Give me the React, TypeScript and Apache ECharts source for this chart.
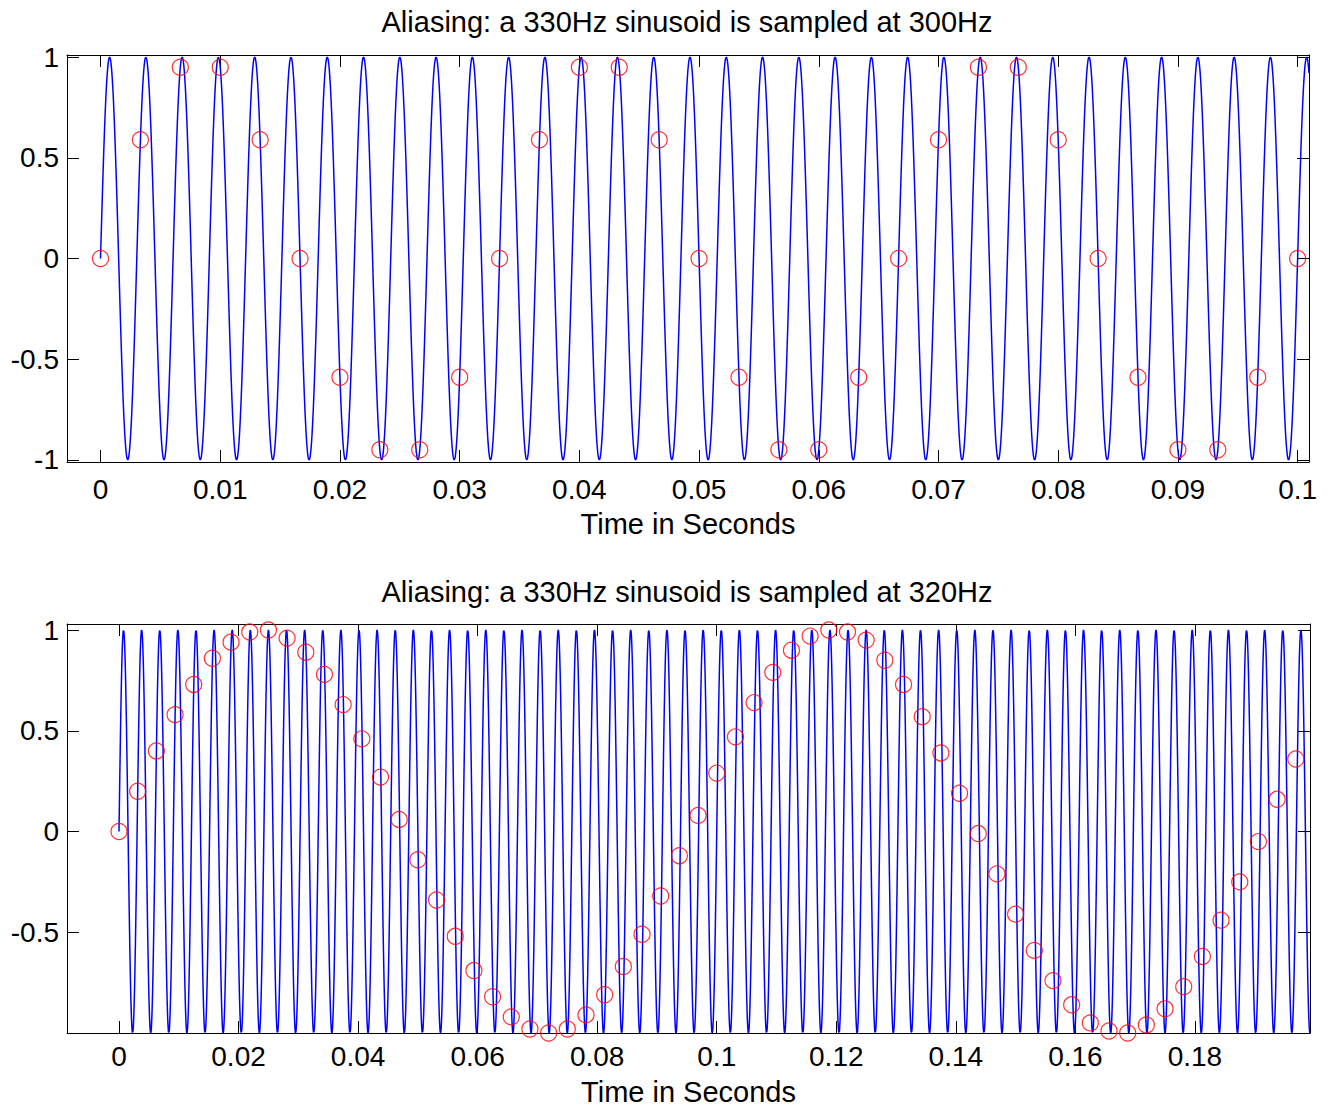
import React, { useEffect, useRef } from "react";
import * as echarts from "echarts";

// ---- Text ----
const TOP_TITLE = "Aliasing: a 330Hz sinusoid is sampled at 300Hz";
const BOTTOM_TITLE = "Aliasing: a 330Hz sinusoid is sampled at 320Hz";
const X_NAME = "Time in Seconds";

// ---- Signal description (from the titles) ----
const TONE_HZ = 330;
const TOP_RATE_HZ = 300;
const BOTTOM_RATE_HZ = 320;

// ---- Sample values (red circles) ----
const TOP_SAMPLES = [
  0, 0.59, 0.95, 0.95, 0.59, 0, -0.59, -0.95, -0.95, -0.59,
  0, 0.59, 0.95, 0.95, 0.59, 0, -0.59, -0.95, -0.95, -0.59,
  0, 0.59, 0.95, 0.95, 0.59, 0, -0.59, -0.95, -0.95, -0.59,
  0,
];
const BOTTOM_SAMPLES = [
  0, 0.2, 0.4, 0.58, 0.73, 0.86, 0.94, 0.99, 1.0, 0.96,
  0.89, 0.78, 0.63, 0.46, 0.27, 0.06, -0.14, -0.34, -0.52, -0.69,
  -0.82, -0.92, -0.98, -1.0, -0.98, -0.91, -0.81, -0.67, -0.51, -0.32,
  -0.12, 0.08, 0.29, 0.47, 0.64, 0.79, 0.9, 0.97, 1.0, 0.99,
  0.95, 0.85, 0.73, 0.57, 0.39, 0.19, -0.01, -0.21, -0.41, -0.59,
  -0.74, -0.86, -0.95, -0.99, -1.0, -0.96, -0.88, -0.77, -0.62, -0.44,
  -0.25, -0.05, 0.16, 0.36,
];

// ---- Axis ticks / ranges ----
const TOP_X_TICKS = [0, 0.01, 0.02, 0.03, 0.04, 0.05, 0.06, 0.07, 0.08, 0.09, 0.1];
const BOTTOM_X_TICKS = [0, 0.02, 0.04, 0.06, 0.08, 0.1, 0.12, 0.14, 0.16, 0.18];
const TOP_Y_TICKS = [-1, -0.5, 0, 0.5, 1];
const BOTTOM_Y_TICKS = [-0.5, 0, 0.5, 1];
const TOP_X_RANGE = [-0.0028, 0.10095];
const BOTTOM_X_RANGE = [-0.0087, 0.19925];
const TOP_Y_RANGE = [-1.011, 1.011];
const BOTTOM_Y_RANGE = [-1, 1.03];

const FONT = "'Liberation Sans', Arial, Helvetica, sans-serif";
const CURVE_STEP = 0.00002;

function tone(tEnd: number): number[][] {
  const pts: number[][] = [];
  const n = Math.ceil(tEnd / CURVE_STEP);
  for (let i = 0; i <= n; i++) {
    const t = Math.min(i * CURVE_STEP, tEnd);
    pts.push([t, Math.sin(2 * Math.PI * TONE_HZ * t)]);
  }
  return pts;
}

function samplePoints(values: number[], rate: number): number[][] {
  return values.map((v, i) => [i / rate, v]);
}

const labelStyle = { fontSize: 28, color: "#000", fontFamily: FONT };

function xAxisPair(gridIndex: number, range: number[], ticks: number[], nameGap: number, labelMargin: number) {
  const common = {
    type: "value",
    gridIndex,
    min: range[0],
    max: range[1],
    splitLine: { show: false },
    axisLine: { show: true, onZero: false, lineStyle: { color: "#000", width: 1 } },
    axisTick: { show: true, inside: true, length: 12, customValues: ticks, lineStyle: { color: "#000", width: 1 } },
  };
  return [
    {
      ...common,
      position: "bottom",
      name: X_NAME,
      nameLocation: "middle",
      nameGap,
      nameTextStyle: { fontSize: 29, color: "#000", fontFamily: FONT },
      axisLabel: { show: true, margin: labelMargin, customValues: ticks, formatter: (v: number) => String(v), ...labelStyle },
    },
    {
      ...common,
      position: "top",
      axisLabel: { show: false, customValues: ticks },
    },
  ];
}

function yAxisPair(gridIndex: number, range: number[], ticks: number[]) {
  const common = {
    type: "value",
    gridIndex,
    min: range[0],
    max: range[1],
    splitLine: { show: false },
    axisLine: { show: true, onZero: false, lineStyle: { color: "#000", width: 1 } },
    axisTick: { show: true, inside: true, length: 12, customValues: ticks, lineStyle: { color: "#000", width: 1 } },
  };
  return [
    {
      ...common,
      position: "left",
      axisLabel: { show: true, margin: 8, customValues: ticks, formatter: (v: number) => String(v), ...labelStyle },
    },
    {
      ...common,
      position: "right",
      axisLabel: { show: false, customValues: ticks },
    },
  ];
}

export default function App() {
  const ref = useRef<HTMLDivElement>(null);

  useEffect(() => {
    if (!ref.current) return;
    const chart = echarts.init(ref.current, undefined, { renderer: "svg" });

    const titleStyle = { fontSize: 29, fontWeight: "normal", color: "#000", fontFamily: FONT };

    const option: any = {
      animation: false,
      backgroundColor: "#fff",
      textStyle: { fontFamily: FONT },
      title: [
        { text: TOP_TITLE, left: 687, top: 7, textAlign: "center", padding: 0, textStyle: titleStyle },
        { text: BOTTOM_TITLE, left: 687, top: 577, textAlign: "center", padding: 0, textStyle: titleStyle },
      ],
      grid: [
        { left: 67, top: 55, width: 1242, height: 407 },
        { left: 67, top: 624, width: 1243, height: 409 },
      ],
      xAxis: [
        ...xAxisPair(0, TOP_X_RANGE, TOP_X_TICKS, 47, 13),
        ...xAxisPair(1, BOTTOM_X_RANGE, BOTTOM_X_TICKS, 44, 9),
      ],
      yAxis: [
        ...yAxisPair(0, TOP_Y_RANGE, TOP_Y_TICKS),
        ...yAxisPair(1, BOTTOM_Y_RANGE, BOTTOM_Y_TICKS),
      ],
      series: [
        {
          type: "line",
          xAxisIndex: 0,
          yAxisIndex: 0,
          data: tone(TOP_X_RANGE[1]),
          showSymbol: false,
          symbol: "none",
          clip: true,
          lineStyle: { color: "#0000ff", width: 1.5 },
          z: 2,
        },
        {
          type: "scatter",
          xAxisIndex: 0,
          yAxisIndex: 0,
          data: samplePoints(TOP_SAMPLES, TOP_RATE_HZ),
          symbol: "circle",
          symbolSize: 16,
          clip: false,
          itemStyle: { color: "transparent", borderColor: "#ff0000", borderWidth: 1.2 },
          z: 3,
        },
        {
          type: "line",
          xAxisIndex: 2,
          yAxisIndex: 2,
          data: tone(BOTTOM_X_RANGE[1]),
          showSymbol: false,
          symbol: "none",
          clip: true,
          lineStyle: { color: "#0000ff", width: 1.5 },
          z: 2,
        },
        {
          type: "scatter",
          xAxisIndex: 2,
          yAxisIndex: 2,
          data: samplePoints(BOTTOM_SAMPLES, BOTTOM_RATE_HZ),
          symbol: "circle",
          symbolSize: 16,
          clip: false,
          itemStyle: { color: "transparent", borderColor: "#ff0000", borderWidth: 1.2 },
          z: 3,
        },
      ],
    };

    chart.setOption(option);
    return () => chart.dispose();
  }, []);

  return (
    <div
      ref={ref}
      style={{ position: "absolute", left: 0, top: 0, width: 1331, height: 1109, background: "#fff" }}
    />
  );
}
